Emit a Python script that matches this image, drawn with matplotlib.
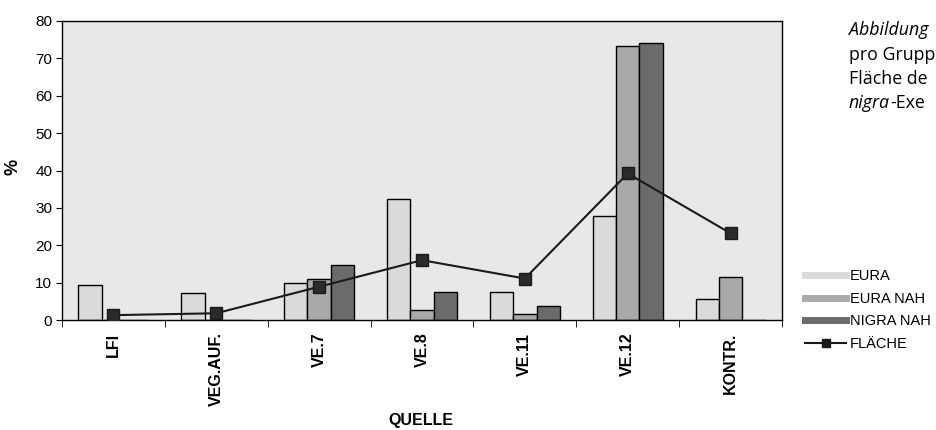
import numpy as np
import matplotlib
matplotlib.use("Agg")
import matplotlib.pyplot as plt
from matplotlib.lines import Line2D

# Werte (in %)
quelle = ["LFI", "VEG.AUF.", "VE.7", "VE.8", "VE.11", "VE.12", "KONTR."]
eura = [9.3, 7.1, 9.8, 32.3, 7.6, 27.9, 5.5]
eura_nah = [0, 0, 10.9, 2.7, 1.6, 73.4, 11.6]
nigra_nah = [0, 0, 14.7, 7.6, 3.8, 74.0, 0]
flaeche = [1.3, 1.8, 8.9, 16.0, 11.1, 39.2, 23.2]

serien = ["EURA", "EURA NAH", "NIGRA NAH", "FLÄCHE"]
farben = ["#dadada", "#a9a9a9", "#6b6b6b"]

# sichtbarer Teil der Bildunterschrift (im Original rechts abgeschnitten)
caption = ["Abbildung", "pro Grupp", "Fläche de", "nigra", "-Exe"]

plt.rcParams["font.family"] = ["Liberation Sans", "DejaVu Sans"]

fig = plt.figure(figsize=(9.36, 4.30), dpi=100)
ax = fig.add_axes([62 / 936, 1 - 320 / 430, 720 / 936, 299 / 430])
ax.set_facecolor("#e8e8e8")

x = np.arange(len(quelle))
bw = 0.227
for k, (werte, farbe) in enumerate(zip([eura, eura_nah, nigra_nah], farben)):
    ax.bar(x + (k - 1) * bw, werte, bw, color=farbe, edgecolor="black",
           linewidth=1.0, zorder=2)

ax.plot(x, flaeche, color="#1a1a1a", lw=1.5, marker="s", markersize=9,
        markerfacecolor="#2a2a2a", markeredgecolor="#1a1a1a", zorder=3)

ax.set_xlim(-0.5, len(quelle) - 0.5)
ax.set_ylim(0, 80)
ax.set_yticks(range(0, 81, 10))
ax.tick_params(axis="y", direction="out", length=4, labelsize=11, pad=3)

ax.set_xticks(x)
ax.set_xticklabels(quelle, rotation=90, fontweight="bold", fontsize=11.5)
ax.tick_params(axis="x", which="major", length=0, pad=9)
ax.set_xticks(np.arange(-0.5, len(quelle) + 0.5, 1), minor=True)
ax.tick_params(axis="x", which="minor", direction="out", length=5)

for s in ax.spines.values():
    s.set_linewidth(1.0)

fig.text(13 / 936, 1 - 167 / 430, "%", rotation=90, ha="center",
         va="center", fontweight="bold", fontsize=13)
fig.text(421 / 936, 1 - 421 / 430, "QUELLE", ha="center", va="center",
         fontweight="bold", fontsize=11.5)

# Legende
handles = [Line2D([], [], color=c, lw=5) for c in farben]
handles.append(Line2D([], [], color="#1a1a1a", lw=1.5, marker="s",
                      markersize=6))
fig.legend(handles, serien, loc="upper left",
           bbox_to_anchor=(798 / 936, 1 - 262 / 430), frameon=False,
           fontsize=10.5, handlelength=2.8, handletextpad=0.25,
           labelspacing=0.58, borderpad=0)

# Bildunterschrift
cap_x = 849 / 936
cap = dict(fontsize=12.8, family=["Open Sans", "DejaVu Sans"], va="center")
fig.text(cap_x, 1 - 30 / 430, caption[0], style="italic", **cap)
fig.text(cap_x, 1 - 55 / 430, caption[1], **cap)
fig.text(cap_x, 1 - 79 / 430, caption[2], **cap)
t = fig.text(cap_x, 1 - 103 / 430, caption[3], style="italic", **cap)
fig.canvas.draw()
bb = t.get_window_extent()
fig.text(bb.x1 / 936, 1 - 103 / 430, caption[4], **cap)

fig.savefig("out.png", dpi=100)
